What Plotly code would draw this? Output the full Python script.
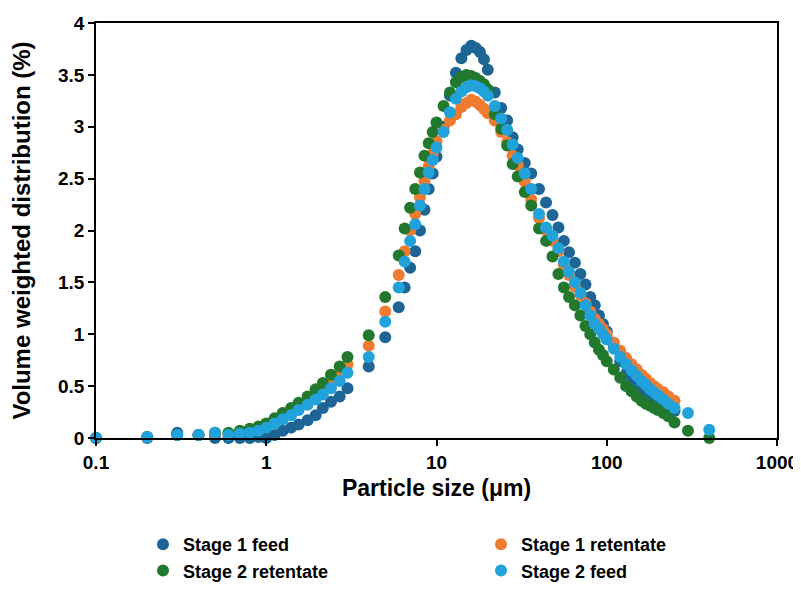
import plotly.graph_objects as go

particle_size_um = [0.1, 0.2, 0.3, 0.4, 0.5, 0.6, 0.7, 0.8, 0.9,
                    1.0, 1.12, 1.25, 1.4, 1.55, 1.75, 1.95, 2.15, 2.4, 2.7, 3.0,
                    4, 5, 6, 6.5, 7, 7.5, 8, 8.5, 9, 9.5, 10,
                    11, 12, 13, 14, 15, 16, 17, 18, 19, 20,
                    22, 24, 26, 28, 30, 33, 36, 40, 44, 48, 52, 56, 60, 65, 70, 75, 80, 85, 90, 95, 100,
                    110, 120, 130, 140, 150, 160, 170, 180, 190, 200,
                    215, 230, 250, 300, 400]

stage1_feed = [0, 0, 0.05, 0.03, 0, 0, 0, 0, 0.01,
               0.0, 0.03, 0.07, 0.1, 0.13, 0.17, 0.22, 0.29, 0.35, 0.4, 0.48,
               0.69, 0.97, 1.26, 1.45, 1.64, 1.8, 2.0, 2.2, 2.4, 2.55, 2.71,
               3.0, 3.3, 3.52, 3.66, 3.74, 3.78, 3.76, 3.72, 3.65, 3.55,
               3.33, 3.18, 3.06, 2.9, 2.78, 2.65, 2.55, 2.4, 2.27, 2.15, 2.03, 1.9, 1.79, 1.69, 1.58, 1.48, 1.36, 1.28, 1.18, 1.1, 1.03,
               0.88, 0.74, 0.62, 0.53, 0.47, 0.43, 0.41, 0.39, 0.38, 0.37,
               0.34, 0.3, 0.26, None, None]

stage1_retentate = [0, 0.01, 0.03, 0.03, 0.04, 0.04, 0.05, 0.06, 0.08,
                    0.12, 0.16, 0.21, 0.26, 0.3, 0.36, 0.42, 0.48, 0.55, 0.63, 0.71,
                    0.89, 1.22, 1.57, 1.8, 2.0, 2.16, 2.32, 2.48, 2.62, 2.74, 2.86,
                    2.97, 3.06, 3.12, 3.19, 3.23, 3.26, 3.24, 3.21, 3.17, 3.13,
                    3.06, 2.95, 2.85, 2.72, 2.63, 2.47, 2.3, 2.12, 2.0, 1.9, 1.8, 1.67, 1.57, 1.46, 1.38, 1.3, 1.22, 1.15, 1.1, 1.05, 1.0,
                    0.92, 0.84, 0.77, 0.71, 0.66, 0.61, 0.57, 0.53, 0.5, 0.47,
                    0.44, 0.4, 0.36, None, None]

stage2_retentate = [0, 0.01, 0.03, 0.03, 0.05, 0.05, 0.07, 0.09, 0.11,
                    0.14, 0.19, 0.24, 0.29, 0.34, 0.4, 0.47, 0.53, 0.61, 0.69, 0.78,
                    0.99, 1.36, 1.76, 2.02, 2.22, 2.4, 2.56, 2.72, 2.84, 2.95, 3.04,
                    3.2, 3.33, 3.43, 3.48, 3.5, 3.49, 3.47, 3.44, 3.41, 3.36,
                    3.12, 2.98, 2.82, 2.64, 2.52, 2.37, 2.24, 2.02, 1.9, 1.75, 1.58, 1.45, 1.36, 1.28, 1.18, 1.08, 1.0, 0.92, 0.85, 0.8, 0.74,
                    0.66, 0.58, 0.5, 0.45, 0.4, 0.36, 0.33, 0.31, 0.29, 0.27,
                    0.24, 0.21, 0.15, 0.07, 0.0]

stage2_feed = [0, 0.01, 0.03, 0.03, 0.05, 0.03, 0.04, 0.05, 0.07,
               0.1, 0.14, 0.18, 0.22, 0.27, 0.32, 0.37, 0.42, 0.48, 0.55, 0.63,
               0.78, 1.12, 1.45, 1.7, 1.9, 2.06, 2.24, 2.4, 2.56, 2.68, 2.8,
               2.95, 3.14, 3.27, 3.34, 3.38, 3.4, 3.39, 3.37, 3.34, 3.3,
               3.2, 3.08, 2.97, 2.83, 2.7, 2.55, 2.4, 2.16, 2.03, 1.95, 1.83, 1.7, 1.6, 1.5, 1.4, 1.28, 1.18, 1.1, 1.05, 1.0, 0.95,
               0.86, 0.78, 0.71, 0.65, 0.6, 0.55, 0.51, 0.47, 0.44, 0.41,
               0.37, 0.33, 0.29, 0.24, 0.08]

series_names = ["Stage 1 feed", "Stage 1 retentate", "Stage 2 retentate", "Stage 2 feed"]
series_values = [stage1_feed, stage1_retentate, stage2_retentate, stage2_feed]
series_colors = ["#1C6594", "#EE7B30", "#22782C", "#22A2DA"]
series_legend = ["legend", "legend2", "legend", "legend2"]

x_tick_vals = [0.1, 1, 10, 100, 1000]
x_tick_text = ["0.1", "1", "10", "100", "1000"]

FONT = "Liberation Sans, Arial, sans-serif"

# plot area in pixels: x 88..769, y 15..435
PLOT_L, PLOT_W, PLOT_B, PLOT_H = 88, 681, 435, 420

fig = go.Figure()
for name, vals, col, leg in zip(series_names, series_values, series_colors, series_legend):
    fig.add_trace(go.Scatter(
        x=particle_size_um, y=vals, name=name, mode="markers",
        marker=dict(size=12, color=col, line=dict(width=0)),
        cliponaxis=False, legend=leg,
    ))

legend_common = dict(
    orientation="v", xref="paper", yref="paper",
    xanchor="left", y=(PLOT_B - 524) / PLOT_H, yanchor="top",
    font=dict(family=FONT, size=18, color="black", weight="bold"),
    tracegroupgap=0, itemsizing="constant",
    bgcolor="rgba(0,0,0,0)",
)

fig.update_layout(
    width=801, height=593,
    margin=dict(l=88, r=32, t=15, b=158),
    paper_bgcolor="white", plot_bgcolor="white",
    font=dict(family=FONT, color="black", size=20),
    showlegend=True,
    legend=dict(legend_common, x=(135 - PLOT_L) / PLOT_W),
    legend2=dict(legend_common, x=(473 - PLOT_L) / PLOT_W),
    xaxis=dict(
        type="log", range=[-1, 3],
        tickvals=x_tick_vals, ticktext=x_tick_text,
        showline=True, linecolor="black", linewidth=1.5, mirror=True,
        ticks="outside", ticklen=6, tickcolor="black", tickwidth=1.5,
        showgrid=False, zeroline=False, automargin=False,
        tickfont=dict(family=FONT, size=19, color="black", weight="bold"),
        title=dict(text="Particle size (μm)", standoff=8,
                   font=dict(family=FONT, size=23, color="black", weight="bold")),
    ),
    yaxis=dict(
        range=[0, 4], dtick=0.5, tick0=0,
        showline=True, linecolor="black", linewidth=1.5, mirror=True,
        ticks="outside", ticklen=6, tickcolor="black", tickwidth=1.5,
        showgrid=False, zeroline=False, automargin=False,
        tickfont=dict(family=FONT, size=19, color="black", weight="bold"),
        title=dict(text="Volume weighted distribution (%)", standoff=21,
                   font=dict(family=FONT, size=24, color="black", weight="bold")),
    ),
)

fig.write_html("out.html")
